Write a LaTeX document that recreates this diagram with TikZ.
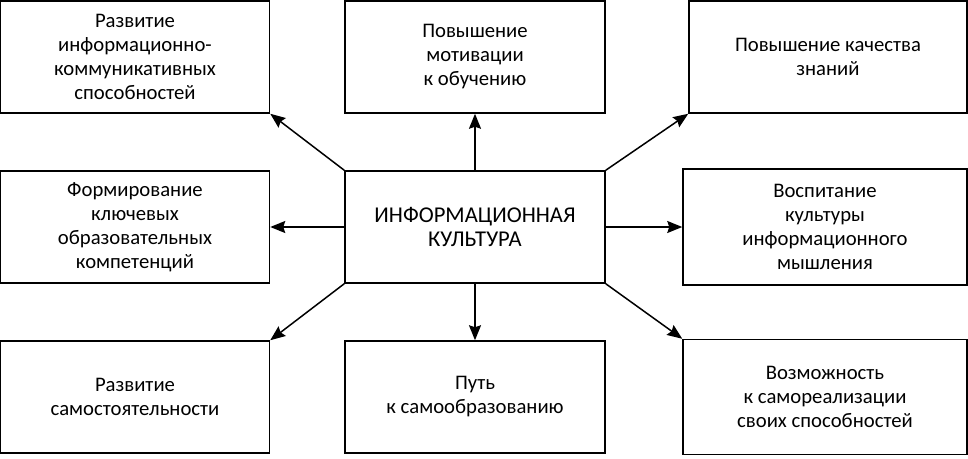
\documentclass[tikz,border=0pt]{standalone}
\usepackage{fontspec}
\setmainfont{Carlito}
\usepackage{tikz}
\usetikzlibrary{positioning, arrows.meta}
\tikzstyle{topic} = [rectangle,
					 minimum width=260pt,
					 minimum height=112pt,
					 text centered,
					 align=center,
					 draw=black,
					 line width=1.5pt,
					 font=\fontsize{20.7}{24}\selectfont,
					]
\tikzstyle{core} = [topic,
					font=\fontsize{22.6}{24.5}\selectfont,
				   ]
\tikzstyle{arrow} = [line width=1.5pt,-{Stealth[length=15pt,width=12pt,inset=2pt]}]

\begin{document}
\begin{tikzpicture}[node distance=170pt]
\useasboundingbox (-475pt,227pt) rectangle (493pt,-231pt);

\node (culture) [core] {ИНФОРМАЦИОННАЯ\\КУЛЬТУРА};
\node (motivation) [topic, above of =culture] {Повышение\\мотивации\\к обучению};
\node (selfedu) [topic, below of =culture] {Путь\\к самообразованию};
\node (competence) [topic, minimum width=269pt, left of =culture, xshift=-170pt] {Формирование\\ключевых\\образовательных\\компетенций};
\node (thinking) [topic, minimum width=284pt, minimum height=116pt, right of =culture, xshift=180pt] {Воспитание\\культуры\\информационного\\мышления};
\node (communication) [topic, minimum width=269pt, above of =competence] {Развитие\\информационно-\\коммуникативных\\способностей};
\node (independence) [topic, minimum width=269pt, below of =competence] {Развитие\\самостоятельности};
\node (quality) [topic, minimum width=278pt, above of =thinking, xshift=3pt] {Повышение качества\\знаний};
\node (selfreal) [topic, minimum width=284pt, minimum height=115pt, below of =thinking] {Возможность\\к самореализации\\своих способностей};

\draw [arrow] (culture.north west) -- (communication.south east);
\draw [arrow] (culture) -- (motivation);
\draw [arrow] (culture.north east) -- (quality.south west);
\draw [arrow] (culture) -- (competence);
\draw [arrow] (culture) -- (thinking);
\draw [arrow] (culture.south west) -- (independence.north east);
\draw [arrow] (culture) -- (selfedu);
\draw [arrow] (culture.south east) -- (selfreal.north west);

\end{tikzpicture}
\end{document}
